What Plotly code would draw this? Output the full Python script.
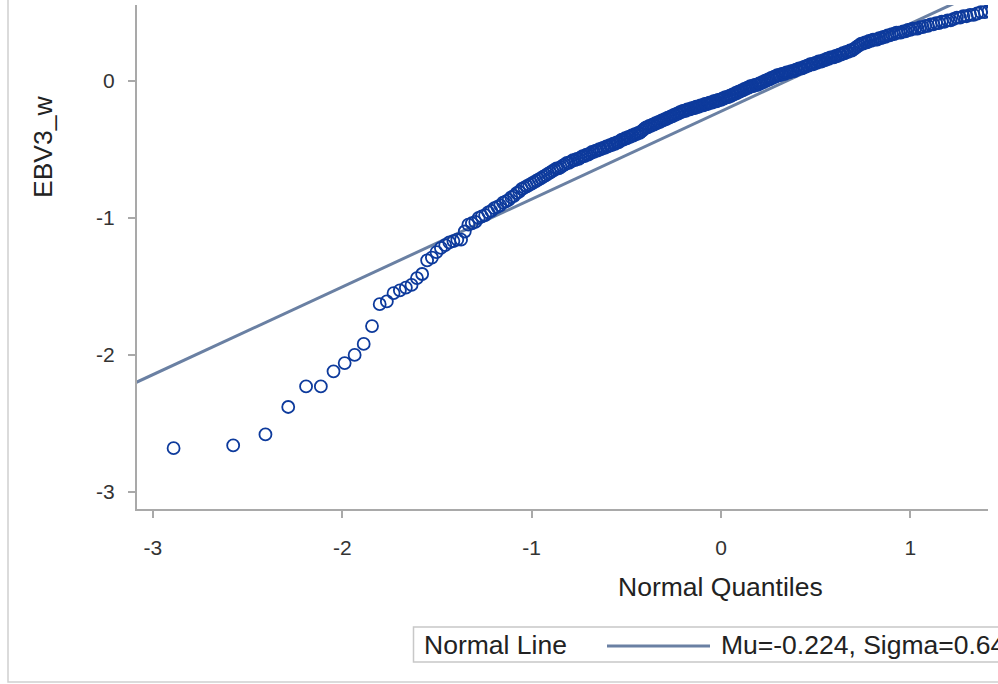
import plotly.graph_objects as go
from statistics import NormalDist

# ---- data ----
n_obs = 325                      # total observations (Blom plotting positions)
mu = -0.224
sigma = 0.640
x_tick_vals = [-3, -2, -1, 0, 1]
x_tick_text = ["-3", "-2", "-1", "0", "1"]
y_tick_vals = [-3, -2, -1, 0]
y_tick_text = ["-3", "-2", "-1", "0"]

# sorted EBV3_w values (lowest first)
ebv3_w = [
    -2.68, -2.66, -2.58, -2.38, -2.23, -2.23, -2.12, -2.06, -2.00, -1.92,
    -1.79, -1.63, -1.61, -1.55, -1.53, -1.51, -1.49, -1.44, -1.41, -1.31,
    -1.29, -1.25, -1.22, -1.20, -1.18, -1.17, -1.16, -1.16, -1.10, -1.05,
    -1.04, -1.03, -1.00, -0.99, -0.98, -0.96, -0.95, -0.93, -0.92, -0.91,
    -0.89, -0.88, -0.87, -0.85, -0.84, -0.82, -0.81, -0.79, -0.78, -0.77,
    -0.76, -0.75, -0.74, -0.73, -0.72, -0.71, -0.70, -0.69, -0.68, -0.67,
    -0.66, -0.65, -0.64, -0.64, -0.63, -0.62, -0.61, -0.60, -0.60, -0.59,
    -0.58, -0.58, -0.57, -0.57, -0.56, -0.55, -0.55, -0.54, -0.54, -0.53,
    -0.52, -0.52, -0.51, -0.51, -0.50, -0.50, -0.49, -0.49, -0.48, -0.48,
    -0.47, -0.47, -0.46, -0.46, -0.45, -0.45, -0.44, -0.43, -0.43, -0.42,
    -0.42, -0.41, -0.41, -0.40, -0.40, -0.39, -0.39, -0.38, -0.38, -0.37,
    -0.36, -0.35, -0.34, -0.34, -0.33, -0.33, -0.32, -0.32, -0.31, -0.31,
    -0.30, -0.30, -0.29, -0.29, -0.28, -0.28, -0.27, -0.27, -0.26, -0.26,
    -0.25, -0.25, -0.24, -0.24, -0.23, -0.23, -0.22, -0.22, -0.22, -0.21,
    -0.21, -0.21, -0.20, -0.20, -0.20, -0.19, -0.19, -0.19, -0.18, -0.18,
    -0.18, -0.17, -0.17, -0.17, -0.16, -0.16, -0.16, -0.15, -0.15, -0.15,
    -0.14, -0.14, -0.14, -0.13, -0.13, -0.12, -0.12, -0.12, -0.11, -0.11,
    -0.10, -0.10, -0.09, -0.09, -0.08, -0.08, -0.07, -0.07, -0.06, -0.06,
    -0.05, -0.05, -0.04, -0.04, -0.04, -0.03, -0.03, -0.03, -0.02, -0.02,
    -0.01, -0.01, 0.00, 0.00, 0.01, 0.01, 0.02, 0.02, 0.03, 0.03,
    0.04, 0.04, 0.04, 0.05, 0.05, 0.05, 0.06, 0.06, 0.06, 0.07,
    0.07, 0.07, 0.08, 0.08, 0.09, 0.09, 0.09, 0.10, 0.10, 0.11,
    0.11, 0.12, 0.12, 0.12, 0.13, 0.13, 0.14, 0.14, 0.14, 0.15,
    0.15, 0.16, 0.16, 0.17, 0.17, 0.17, 0.18, 0.18, 0.19, 0.19,
    0.20, 0.20, 0.21, 0.21, 0.22, 0.22, 0.23, 0.24, 0.25, 0.26,
    0.27, 0.27, 0.28, 0.28, 0.29, 0.29, 0.30, 0.30, 0.30, 0.31,
    0.31, 0.32, 0.32, 0.33, 0.33, 0.34, 0.34, 0.35, 0.35, 0.35,
    0.36, 0.36, 0.37, 0.37, 0.38, 0.38, 0.38, 0.39, 0.39, 0.40,
    0.40, 0.41, 0.41, 0.42, 0.42, 0.43, 0.43, 0.44, 0.44, 0.45,
    0.46, 0.46, 0.47, 0.47, 0.48, 0.48, 0.49, 0.50, 0.50, 0.51,
    0.52, 0.53, 0.54,
]

# normal quantiles (Blom positions) for each ranked observation
nd = NormalDist()
normal_q = [nd.inv_cdf((i + 1 - 0.375) / (n_obs + 0.25)) for i in range(len(ebv3_w))]

line_x = [-3.3, 1.8]
line_y = [mu + sigma * v for v in line_x]

LINE_COLOR = "#6a80a3"
MARK_COLOR = "#0d3a9c"
AXIS_COLOR = "#a9a9a9"
FONT = "Liberation Sans, Arial, sans-serif"

fig = go.Figure()
fig.add_trace(go.Scatter(
    x=line_x, y=line_y, mode="lines",
    line=dict(color=LINE_COLOR, width=3), showlegend=False, hoverinfo="skip"))
fig.add_trace(go.Scatter(
    x=normal_q, y=ebv3_w, mode="markers",
    marker=dict(symbol="circle-open", size=12, color=MARK_COLOR,
                line=dict(width=1.8, color=MARK_COLOR)),
    showlegend=False))

axis_common = dict(
    showgrid=False, zeroline=False, showline=True, linecolor=AXIS_COLOR,
    linewidth=2, ticks="outside", ticklen=7, tickwidth=1.5, tickcolor=AXIS_COLOR,
    tickfont=dict(family=FONT, size=21, color="#333333"))

fig.update_xaxes(range=[-3.084, 1.41], tickvals=x_tick_vals, ticktext=x_tick_text,
                 ticklabelstandoff=12, **axis_common)
fig.update_yaxes(range=[-3.124, 0.552], tickvals=y_tick_vals, ticktext=y_tick_text,
                 ticklabelstandoff=9, **axis_common)

# pixel helpers for plot area: x 137..988, y 5..509
L, R, T, B = 137, 988, 5, 509
def px(xp):
    return (xp - L) / (R - L)
def py(yp):
    return (B - yp) / (B - T)

TITLE_SIZE = 26.5
annotations = [
    dict(text="EBV3_w", x=px(43), y=py(147), xref="paper", yref="paper",
         textangle=-90, showarrow=False, xanchor="center", yanchor="middle",
         font=dict(family=FONT, size=TITLE_SIZE, color="#222222")),
    dict(text="Normal Quantiles", x=px(720), y=py(587), xref="paper", yref="paper",
         showarrow=False, xanchor="center", yanchor="middle",
         font=dict(family=FONT, size=TITLE_SIZE, color="#222222")),
    dict(text="Normal Line", x=px(422), y=py(645), xref="paper", yref="paper",
         showarrow=False, xanchor="left", yanchor="middle",
         font=dict(family=FONT, size=TITLE_SIZE, color="#222222")),
    dict(text="Mu=-0.224, Sigma=0.640", x=px(719), y=py(645), xref="paper", yref="paper",
         showarrow=False, xanchor="left", yanchor="middle",
         font=dict(family=FONT, size=TITLE_SIZE, color="#222222")),
]

shapes = [
    # outer frame
    dict(type="rect", xref="paper", yref="paper", x0=px(8), x1=px(1100),
         y0=py(682), y1=py(-100), line=dict(color="#d0d0d0", width=1.5)),
    # legend box
    dict(type="rect", xref="paper", yref="paper", x0=px(413.5), x1=px(1100),
         y0=py(662), y1=py(627), line=dict(color="#c8c8c8", width=1.5),
         fillcolor="white"),
    # legend line sample
    dict(type="line", xref="paper", yref="paper", x0=px(607), x1=px(710),
         y0=py(646), y1=py(646), line=dict(color=LINE_COLOR, width=3)),
]

fig.update_layout(
    width=998, height=684,
    margin=dict(l=L, r=998 - R, t=T, b=684 - B),
    plot_bgcolor="white", paper_bgcolor="white",
    annotations=annotations, shapes=shapes,
    font=dict(family=FONT),
)

fig.write_html(
    "out.html",
    config={"displayModeBar": False},
    post_script="document.body.style.margin='0';document.body.style.overflow='hidden';",
)
